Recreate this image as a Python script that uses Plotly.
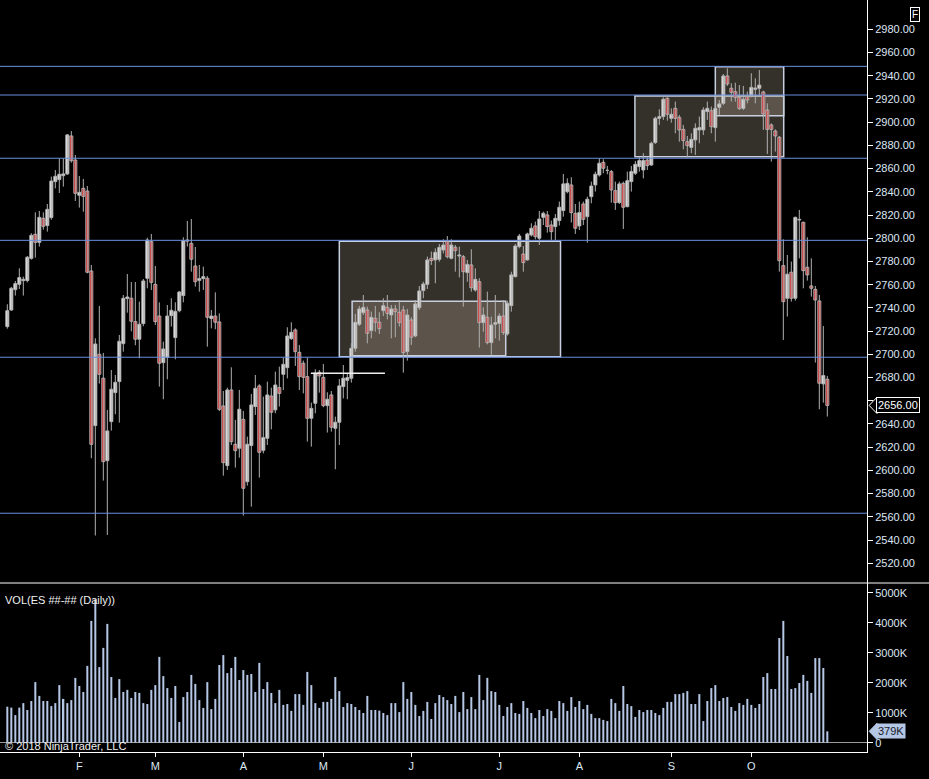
import plotly.graph_objects as go

# daily ES bars (index = trading day, Jan 5 .. Oct 26 2018)
opens = [2723.9, 2738.2, 2755.7, 2760.3, 2763.5, 2763.5, 2782.7, 2803.4, 2796.5, 2817.2,
         2810.9, 2817.8, 2848.8, 2850.5, 2853.9, 2855.4, 2888.1, 2867.4, 2837.0, 2843.0,
         2840.7, 2771.8, 2638.6, 2700.0, 2679.4, 2608.4, 2642.0, 2667.0, 2676.5, 2709.2,
         2748.0, 2748.3, 2728.2, 2713.0, 2726.5, 2765.5, 2797.1, 2760.3, 2733.0, 2692.8,
         2697.4, 2733.3, 2714.4, 2737.6, 2750.6, 2798.5, 2795.6, 2776.1, 2763.7, 2765.2,
         2765.5, 2730.8, 2733.0, 2727.9, 2655.5, 2604.1, 2669.3, 2622.5, 2619.1, 2644.0,
         2590.3, 2621.4, 2655.0, 2672.8, 2617.3, 2627.7, 2664.1, 2652.1, 2671.3, 2682.8,
         2688.5, 2713.5, 2721.0, 2701.7, 2692.3, 2680.8, 2644.9, 2657.8, 2684.5, 2680.2,
         2655.8, 2665.0, 2636.3, 2641.5, 2672.2, 2677.6, 2679.4, 2705.2, 2725.9, 2735.9,
         2738.2, 2720.4, 2731.0, 2727.6, 2737.6, 2740.5, 2733.9, 2739.1, 2736.2, 2738.2,
         2702.3, 2729.6, 2715.8, 2740.2, 2754.9, 2760.3, 2782.7, 2781.3, 2781.8, 2789.9,
         2797.1, 2782.7, 2792.2, 2784.7, 2784.1, 2770.4, 2777.0, 2755.4, 2762.6, 2727.3,
         2731.9, 2710.1, 2725.9, 2726.7, 2733.0, 2717.5, 2741.9, 2766.9, 2792.8, 2786.4,
         2781.3, 2802.8, 2810.6, 2800.0, 2818.0, 2820.1, 2811.4, 2810.0, 2815.2, 2823.8,
         2840.1, 2845.9, 2821.5, 2810.6, 2829.5, 2818.6, 2835.8, 2845.9, 2854.5, 2865.4,
         2858.5, 2857.4, 2841.0, 2830.7, 2847.3, 2827.2, 2848.8, 2856.0, 2861.7, 2858.8,
         2867.4, 2863.1, 2882.4, 2903.3, 2904.8, 2920.6, 2903.3, 2911.9, 2904.2, 2893.8,
         2883.2, 2878.3, 2884.7, 2893.3, 2893.3, 2909.1, 2909.9, 2895.3, 2912.8, 2916.2,
         2939.8, 2929.2, 2926.3, 2921.4, 2911.9, 2922.0, 2922.6, 2928.3, 2929.2, 2926.0,
         2910.5, 2897.6, 2892.4, 2887.0, 2776.4, 2748.3, 2770.7, 2748.3, 2815.7, 2813.7,
         2775.0, 2758.9, 2756.0, 2746.0, 2674.5, 2678.5]
highs = [2743.1, 2758.0, 2763.2, 2774.1, 2766.9, 2784.7, 2804.3, 2822.3, 2823.5, 2822.3,
         2829.5, 2853.1, 2858.8, 2868.9, 2868.9, 2889.8, 2892.4, 2871.7, 2853.6, 2851.1,
         2845.0, 2777.0, 2713.8, 2741.7, 2701.2, 2652.1, 2686.5, 2682.2, 2716.7, 2751.1,
         2769.2, 2762.3, 2762.3, 2745.4, 2764.9, 2800.5, 2803.7, 2776.1, 2744.8, 2710.9,
         2742.5, 2748.3, 2744.8, 2754.6, 2800.8, 2814.9, 2816.6, 2792.5, 2777.0, 2775.5,
         2767.5, 2738.2, 2753.4, 2735.3, 2668.4, 2671.3, 2688.8, 2643.5, 2669.3, 2651.2,
         2629.1, 2665.9, 2682.2, 2674.2, 2663.6, 2676.5, 2671.3, 2685.1, 2689.4, 2697.1,
         2723.3, 2727.6, 2722.4, 2708.1, 2694.6, 2697.2, 2658.4, 2687.1, 2686.5, 2691.7,
         2667.3, 2668.4, 2646.3, 2678.8, 2690.8, 2683.7, 2709.5, 2734.8, 2741.7, 2751.1,
         2741.1, 2736.8, 2741.7, 2736.2, 2748.3, 2751.1, 2742.5, 2742.5, 2746.8, 2741.7,
         2739.1, 2731.9, 2746.8, 2758.9, 2762.6, 2784.2, 2788.5, 2791.3, 2795.1, 2799.1,
         2801.9, 2799.1, 2794.2, 2792.8, 2785.6, 2781.3, 2790.5, 2774.1, 2765.5, 2740.5,
         2754.0, 2732.5, 2751.1, 2735.3, 2746.8, 2746.2, 2771.2, 2795.1, 2803.7, 2793.3,
         2804.8, 2812.9, 2814.3, 2823.5, 2822.9, 2823.5, 2815.2, 2820.9, 2831.6, 2855.4,
         2851.6, 2852.5, 2829.5, 2831.6, 2831.6, 2835.8, 2848.8, 2857.4, 2868.9, 2868.0,
         2862.3, 2858.8, 2848.8, 2848.8, 2848.8, 2857.4, 2862.3, 2866.6, 2870.3, 2873.2,
         2869.7, 2883.2, 2904.8, 2911.1, 2921.4, 2921.4, 2911.9, 2917.7, 2906.2, 2897.6,
         2888.1, 2890.4, 2899.0, 2904.8, 2912.8, 2917.7, 2913.4, 2923.4, 2919.1, 2941.5,
         2946.4, 2933.5, 2934.0, 2932.0, 2931.2, 2926.3, 2942.1, 2937.8, 2944.9, 2927.1,
         2916.2, 2899.0, 2893.8, 2888.1, 2799.1, 2785.6, 2779.9, 2818.6, 2824.4, 2814.3,
         2800.8, 2782.7, 2758.9, 2751.2, 2724.4, 2681.4]
lows = [2722.1, 2737.4, 2750.6, 2756.3, 2750.6, 2762.0, 2781.6, 2783.3, 2792.8, 2807.4,
        2805.7, 2816.0, 2843.0, 2839.0, 2844.5, 2854.5, 2865.1, 2832.1, 2826.4, 2822.9,
        2769.8, 2610.5, 2543.9, 2674.8, 2591.2, 2544.4, 2634.3, 2648.4, 2641.2, 2702.3,
        2735.9, 2719.8, 2707.8, 2696.6, 2724.2, 2756.9, 2755.4, 2725.3, 2672.2, 2661.3,
        2678.5, 2723.9, 2695.7, 2736.2, 2744.8, 2792.8, 2771.2, 2758.3, 2754.0, 2755.4,
        2706.6, 2722.4, 2721.6, 2651.2, 2595.5, 2600.4, 2621.9, 2602.4, 2611.0, 2561.1,
        2586.9, 2568.8, 2647.8, 2593.8, 2614.7, 2621.9, 2635.4, 2649.2, 2655.0, 2669.3,
        2679.3, 2712.4, 2690.0, 2669.3, 2666.4, 2624.8, 2620.5, 2649.2, 2667.0, 2654.4,
        2632.6, 2633.4, 2601.0, 2621.9, 2662.1, 2661.3, 2675.6, 2702.3, 2724.4, 2733.9,
        2709.5, 2713.8, 2719.5, 2717.5, 2733.0, 2730.1, 2713.8, 2714.7, 2723.9, 2684.2,
        2694.6, 2708.1, 2714.7, 2738.2, 2748.3, 2756.3, 2777.0, 2761.2, 2779.8, 2787.0,
        2782.7, 2781.8, 2771.2, 2766.3, 2741.1, 2762.6, 2754.0, 2754.0, 2705.8, 2719.5,
        2708.6, 2699.5, 2713.8, 2711.8, 2716.7, 2716.1, 2736.8, 2766.3, 2791.3, 2771.2,
        2780.7, 2801.4, 2799.1, 2794.2, 2811.4, 2804.8, 2798.5, 2798.5, 2810.9, 2818.6,
        2838.7, 2813.5, 2803.7, 2807.1, 2811.4, 2796.2, 2830.1, 2840.2, 2853.1, 2856.0,
        2855.1, 2830.7, 2824.4, 2829.5, 2808.0, 2826.7, 2840.2, 2854.5, 2857.4, 2851.6,
        2858.8, 2862.3, 2881.2, 2897.6, 2901.9, 2901.3, 2899.6, 2890.4, 2883.2, 2876.6,
        2869.7, 2873.2, 2871.7, 2881.8, 2889.0, 2901.9, 2890.4, 2883.2, 2906.2, 2914.8,
        2931.2, 2917.7, 2917.7, 2910.5, 2910.5, 2916.2, 2921.4, 2916.2, 2922.0, 2893.3,
        2872.6, 2866.0, 2874.6, 2771.2, 2712.4, 2732.5, 2745.4, 2746.3, 2782.7, 2756.9,
        2763.5, 2749.7, 2692.9, 2652.7, 2658.4, 2646.4]
closes = [2737.6, 2756.9, 2760.9, 2766.1, 2764.6, 2783.6, 2802.5, 2796.5, 2818.0, 2810.3,
          2824.9, 2849.3, 2853.4, 2855.1, 2855.4, 2889.0, 2866.8, 2838.7, 2839.6, 2836.1,
          2770.7, 2622.5, 2708.9, 2682.8, 2607.6, 2634.0, 2669.9, 2675.9, 2711.2, 2748.3,
          2749.4, 2728.5, 2713.0, 2725.9, 2763.2, 2798.5, 2762.0, 2728.2, 2692.3, 2704.6,
          2733.0, 2737.9, 2737.0, 2753.7, 2797.9, 2797.5, 2781.9, 2762.6, 2765.2, 2766.9,
          2731.9, 2733.0, 2727.6, 2652.6, 2606.7, 2669.3, 2624.8, 2617.0, 2652.7, 2584.6,
          2622.5, 2656.4, 2670.7, 2615.6, 2628.2, 2665.0, 2650.1, 2673.6, 2666.4, 2691.4,
          2715.8, 2719.0, 2702.3, 2680.8, 2680.2, 2644.9, 2653.5, 2683.7, 2681.4, 2655.8,
          2661.3, 2637.2, 2641.5, 2672.8, 2679.4, 2679.9, 2705.2, 2727.6, 2739.1, 2740.5,
          2718.1, 2731.9, 2727.6, 2722.1, 2741.9, 2735.3, 2739.1, 2736.8, 2727.3, 2701.5,
          2733.9, 2714.7, 2743.4, 2754.6, 2760.6, 2781.3, 2780.7, 2787.9, 2792.2, 2794.2,
          2784.1, 2794.2, 2789.3, 2785.6, 2771.2, 2777.5, 2757.4, 2764.6, 2727.3, 2733.9,
          2710.1, 2725.3, 2727.3, 2733.0, 2718.7, 2744.0, 2768.4, 2793.3, 2801.9, 2779.0,
          2803.7, 2808.6, 2801.4, 2816.6, 2821.5, 2810.0, 2805.7, 2817.2, 2826.7, 2846.8,
          2847.3, 2822.1, 2808.6, 2822.1, 2816.3, 2833.6, 2845.0, 2855.1, 2864.6, 2860.3,
          2858.5, 2841.6, 2830.7, 2846.8, 2826.7, 2849.6, 2857.4, 2863.7, 2866.9, 2866.9,
          2862.6, 2881.8, 2903.3, 2904.8, 2919.7, 2906.8, 2906.8, 2903.3, 2893.3, 2884.1,
          2879.8, 2885.2, 2894.7, 2895.3, 2910.5, 2911.9, 2896.1, 2911.9, 2915.7, 2939.8,
          2932.9, 2925.7, 2921.4, 2911.9, 2919.7, 2919.1, 2930.0, 2929.4, 2932.0, 2907.1,
          2893.8, 2893.8, 2888.1, 2780.7, 2745.4, 2769.0, 2748.3, 2818.0, 2816.3, 2772.1,
          2768.4, 2756.9, 2746.8, 2675.1, 2681.7, 2656.0]
volumes_k = [1200, 1170, 920, 1170, 1320, 1090, 1390, 2020, 1560, 1390,
             1390, 1220, 1320, 1920, 1460, 1320, 1420, 2160, 1890, 1690,
             2560, 4060, 4780, 2520, 3160, 3960, 2190, 1490, 2120, 1690,
             1760, 1490, 1690, 1660, 1320, 1290, 1760, 1920, 2860, 2220,
             1820, 1490, 1890, 690, 1520, 1690, 2260, 1960, 1420, 1160,
             2020, 1120, 1460, 2590, 2920, 2320, 2490, 2860, 2090, 2420,
             2260, 2290, 1690, 2660, 1790, 2020, 1660, 1320, 1760, 1260,
             1290, 1060, 1620, 1620, 1260, 2360, 1920, 1320, 1160, 1360,
             1360, 1460, 2190, 1720, 1190, 1320, 1290, 1190, 1090, 990,
             1560, 1090, 1090, 1070, 990, 920, 1320, 1320, 1020, 2020,
             1460, 1690, 1260, 890, 1060, 1360, 790, 1320, 1590, 1520,
             1420, 1290, 1560, 1020, 1690, 1120, 1520, 1120, 2260, 1420,
             2160, 1720, 1690, 1260, 890, 1190, 1320, 990, 960, 1390,
             1160, 990, 820, 1090, 890, 1120, 1060, 820, 1390, 1320,
             1060, 1520, 1190, 1390, 1120, 1260, 960, 820, 820, 760,
             720, 1460, 1320, 1060, 1890, 1290, 1220, 860, 1090, 1020,
             1090, 1090, 990, 920, 1160, 1360, 1360, 1620, 1620, 1660,
             1720, 1290, 1290, 1620, 720, 1390, 1820, 1920, 1390, 1490,
             1520, 1190, 1060, 1320, 1260, 1460, 1260, 1160, 1290, 2190,
             2320, 1790, 1790, 3490, 4060, 2890, 1790, 1820, 1990, 2260,
             2060, 1660, 2820, 2820, 2490, 379]
bars = list(range(len(closes)))

# month labels sit on the first bar of each month
month_bars = [18, 37, 59, 79, 101, 123, 143, 166, 186]
month_labels = ['F', 'M', 'A', 'M', 'J', 'J', 'A', 'S', 'O']

price_ticks = list(range(2520, 3000, 20))
vol_ticks = [0, 1000, 2000, 3000, 4000, 5000]

# drawn levels and zones
levels = [2948.1, 2923.4, 2868.9, 2798.2, 2697.5, 2563.1]
zones = [  # (first bar, last bar, top, bottom)
    (83.0, 138.3, 2797.4, 2697.9),
    (86.2, 124.6, 2745.7, 2698.8),
    (156.9, 194.1, 2922.6, 2870.3),
    (177.0, 194.1, 2947.8, 2905.6),
]
marker_line = (75.9, 94.4, 2683.7)

label_col = '#dde7f5'
font = 'Liberation Sans, Arial, sans-serif'
up_fill, down_fill, edge = '#f6f6f6', '#e00000', '#b0b0b0'

last_px = closes[-1]
last_vol = volumes_k[-1]

fig = go.Figure()

# wicks, then bodies as floating bars (NinjaTrader style: grey outline, white / red body)
wick_x, wick_y = [], []
for i in bars:
    wick_x += [i, i, None]
    wick_y += [lows[i], highs[i], None]
fig.add_trace(go.Scatter(x=wick_x, y=wick_y, mode='lines', line=dict(color=edge, width=1),
                         hoverinfo='skip', showlegend=False, xaxis='x', yaxis='y'))

fig.add_trace(go.Bar(
    x=bars,
    base=[min(o, c) for o, c in zip(opens, closes)],
    y=[abs(c - o) for o, c in zip(opens, closes)],
    width=0.75,
    marker=dict(color=[up_fill if c > o else down_fill for o, c in zip(opens, closes)],
                line=dict(color=edge, width=1)),
    showlegend=False, xaxis='x', yaxis='y'))

fig.add_trace(go.Bar(
    x=bars, y=volumes_k, width=0.5, marker=dict(color='#b4c8e6', line=dict(width=0)),
    showlegend=False, xaxis='x', yaxis='y2'))

split = (752 - 583) / 752

# the last-price flag covers the tick label it sits on
price_text = ['' if abs(v - last_px) < 10 else f'{v:.2f}' for v in price_ticks]

fig.update_layout(
    width=929, height=779,
    margin=dict(l=0, r=62, t=0, b=27),
    paper_bgcolor='black', plot_bgcolor='black',
    font=dict(family=font, size=11, color=label_col),
    barmode='overlay',
    xaxis=dict(domain=[0, 1], range=[-1.83, 214.92], anchor='y2',
               tickvals=month_bars, ticktext=month_labels,
               ticks='outside', ticklen=4, tickcolor='white',
               showline=True, linecolor='white', linewidth=1,
               showgrid=False, zeroline=False, fixedrange=True),
    yaxis=dict(domain=[split, 1], range=[2503.0, 3005.24], side='right', anchor='x',
               tickvals=price_ticks, ticktext=price_text,
               ticks='outside', ticklen=5, tickcolor='white',
               showline=True, linecolor='white', linewidth=1,
               showgrid=False, zeroline=False),
    yaxis2=dict(domain=[0, split], range=[-310, 5323], side='right', anchor='x',
                tickvals=vol_ticks, ticktext=['0' if v == 0 else f'{v}K' for v in vol_ticks],
                ticks='outside', ticklen=5, tickcolor='white',
                showline=True, linecolor='white', linewidth=1,
                showgrid=False, zeroline=True, zerolinecolor='#9a9a9a', zerolinewidth=1),
)

# separator between the two panels
fig.add_shape(type='line', xref='paper', yref='paper', x0=0, x1=929 / 867, y0=split, y1=split,
              line=dict(color='white', width=1))

for x0, x1, top, bottom in zones:
    fig.add_shape(type='rect', xref='x', yref='y', x0=x0, x1=x1, y0=bottom, y1=top,
                  fillcolor='rgba(225,208,182,0.23)', line=dict(color='#c8d0e0', width=1.5),
                  layer='below')

for lv in levels:
    fig.add_shape(type='line', xref='paper', yref='y', x0=0, x1=1, y0=lv, y1=lv,
                  line=dict(color='#6a8fe0', width=1))

fig.add_shape(type='line', xref='x', yref='y', x0=marker_line[0], x1=marker_line[1],
              y0=marker_line[2], y1=marker_line[2], line=dict(color='#f0f0f0', width=1.5))

# last price / last volume flags
fig.add_shape(type='path', xref='paper', yref='y',
              path=f'M 1.0025 {last_px} L 1.0115 {last_px + 7} L 1.0115 {last_px - 7} Z',
              fillcolor='black', line=dict(color='white', width=1))
fig.add_annotation(xref='paper', yref='y', x=1.0105, y=last_px, xanchor='left',
                   text=f'{last_px:.2f}', showarrow=False, bgcolor='black',
                   bordercolor='white', borderwidth=1, borderpad=1,
                   font=dict(color='white', size=11))
fig.add_shape(type='path', xref='paper', yref='y2',
              path=f'M 1.0025 {last_vol} L 1.0115 {last_vol + 270} L 1.0115 {last_vol - 270} Z',
              fillcolor='#b4c8e6', line=dict(color='#b4c8e6', width=1))
fig.add_annotation(xref='paper', yref='y2', x=1.0105, y=last_vol, xanchor='left',
                   text=f'{last_vol}K', showarrow=False, bgcolor='#b4c8e6',
                   borderpad=1, font=dict(color='#1a1a2a', size=11))

fig.add_annotation(xref='paper', yref='paper', x=0.0035, y=(752 - 600) / 752,
                   xanchor='left', yanchor='middle', text='VOL(ES ##-## (Daily))',
                   showarrow=False, font=dict(color='#f0f0f0', size=11))
fig.add_annotation(xref='paper', yref='paper', x=0.0035, y=(752 - 746) / 752,
                   xanchor='left', yanchor='middle', text='© 2018 NinjaTrader, LLC',
                   showarrow=False, font=dict(color='#f0f0f0', size=11))
fig.add_annotation(xref='paper', yref='paper', x=920 / 867, y=(752 - 7) / 752,
                   text='F', showarrow=False, bordercolor='white', borderwidth=1,
                   borderpad=1, font=dict(color='white', size=10))

# drop the browser's default page margin so the chart fills the window
fig.write_html("out.html", config={'displayModeBar': False},
               post_script="document.body.style.margin='0';")
